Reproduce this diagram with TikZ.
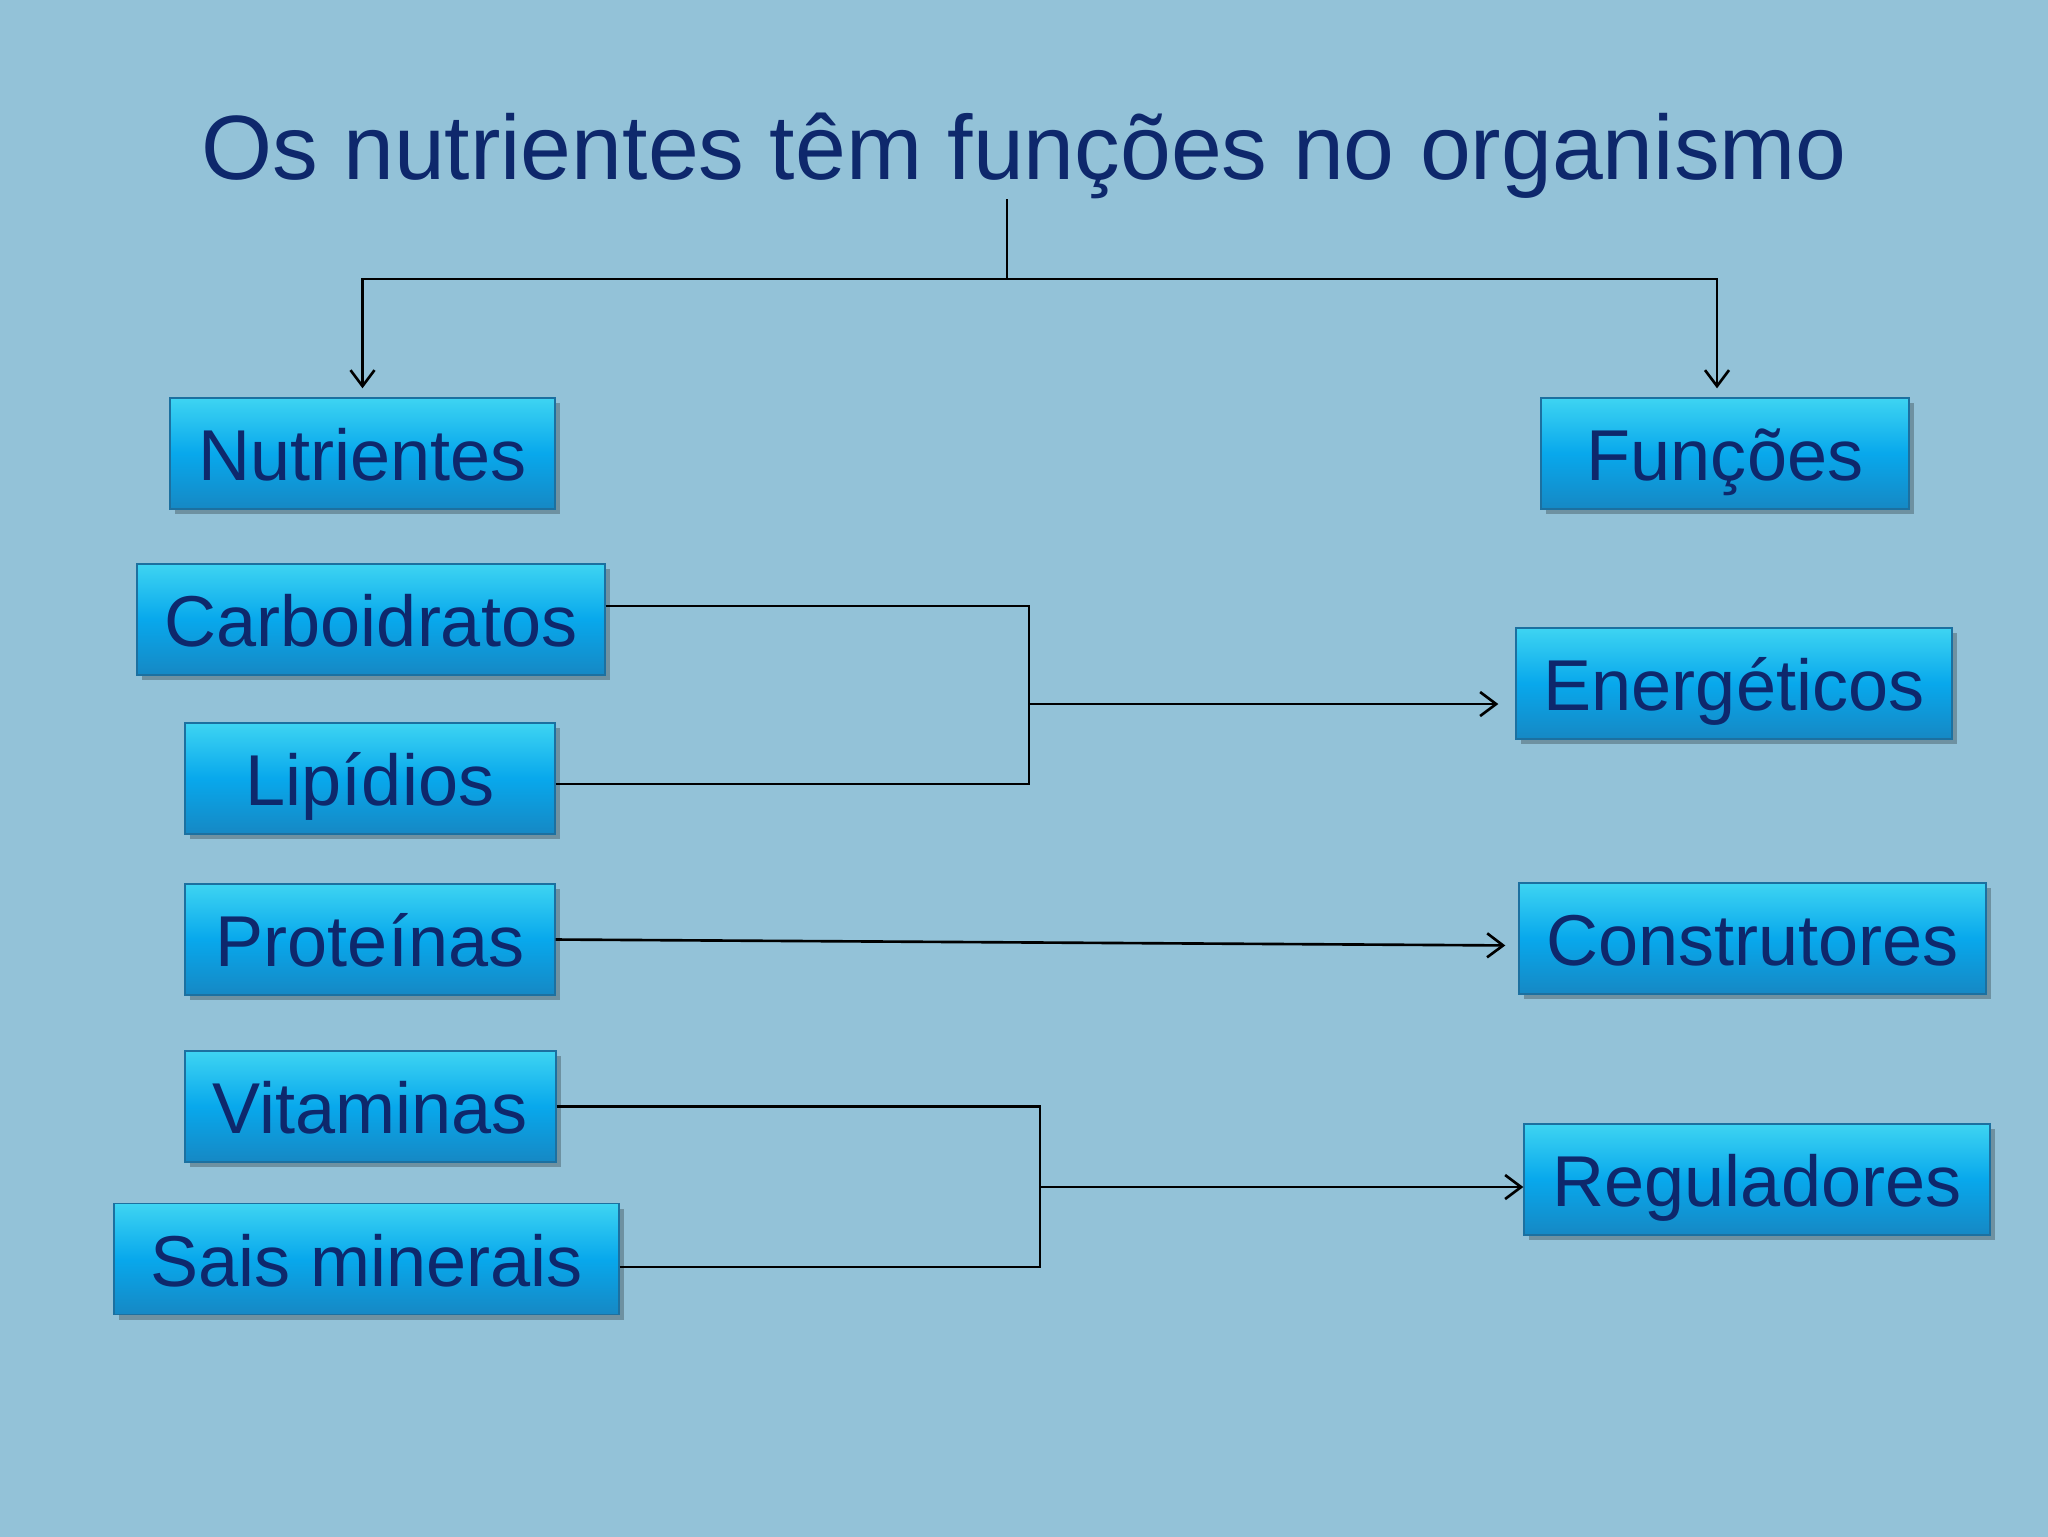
\documentclass[tikz,border=0pt]{standalone}
\usepackage{fontspec}
\setmainfont{Liberation Sans}
\usepackage{xcolor}
\usepackage{tikz}
\usetikzlibrary{arrows.meta,shadows}

\definecolor{fundo}{RGB}{147,194,216}
\definecolor{azultexto}{RGB}{14,40,108}
\definecolor{caixacima}{RGB}{62,212,242}
\definecolor{caixameio}{RGB}{8,168,236}
\definecolor{caixabaixo}{RGB}{22,136,196}
\definecolor{borda}{RGB}{28,112,160}

\tikzset{
	caixa/.style={draw=borda, line width=0.4pt, top color=caixacima, bottom color=caixabaixo, middle color=caixameio,
		minimum height=11.1mm, inner sep=0pt, text height=6.9mm, text depth=1.5mm,
		text=azultexto, font=\fontsize{20.5}{24}\selectfont,
		general shadow={fill=black, opacity=0.25, shadow xshift=0.5mm, shadow yshift=-0.5mm}},
	liga/.style={line width=0.75pt, >={Straight Barb[length=1.6mm,width=2.4mm]}}
}

\begin{document}
\begin{tikzpicture}[x=0.1mm, y=-0.1mm]
		\useasboundingbox (0,0) rectangle (2048,1536);
		\fill[fundo] (-20,-20) rectangle (2068,1556);
		\node[anchor=base, inner sep=0pt, text=azultexto, font=\fontsize{26}{30}\selectfont] (titulo) at (1024,179) {Os nutrientes têm funções no organismo};

		\node[caixa, minimum width=38.5mm] (nut) at (362.5,453.5) {Nutrientes};
		\node[caixa, minimum width=36.8mm] (fun) at (1725,453.5) {Funções};
		\node[caixa, minimum width=46.8mm] (carb) at (371,619.5) {Carboidratos};
		\node[caixa, minimum width=37mm] (lip) at (370,778.5) {Lipídios};
		\node[caixa, minimum width=37mm] (prot) at (370,939.5) {Proteínas};
		\node[caixa, minimum width=37.1mm] (vit) at (370.5,1106.5) {Vitaminas};
		\node[caixa, minimum width=50.5mm] (sais) at (366.5,1259) {Sais minerais};
		\node[caixa, minimum width=43.6mm] (ener) at (1734,683.5) {Energéticos};
		\node[caixa, minimum width=46.7mm] (cons) at (1752.5,938.5) {Construtores};
		\node[caixa, minimum width=46.6mm] (reg) at (1757,1179.5) {Reguladores};

		\coordinate (divide) at (1007,279);
		\coordinate (juntaA) at (1029,704);
		\coordinate (juntaB) at (1040,1187);

		\draw[liga] (divide |- titulo.south) -- (divide);
		\draw[liga,->,shorten >=0.9mm] (divide) -| (nut.north);
		\draw[liga,->,shorten >=0.9mm] (divide) -| ([xshift=-0.8mm]fun.north);

		\draw[liga] ([yshift=1.35mm]carb.east) -| (juntaA);
		\draw[liga] ([yshift=-0.55mm]lip.east) -| (juntaA);
		\draw[liga,->,shorten >=1.7mm] (juntaA) -- (juntaA -| ener.west);

		\draw[liga,->,shorten >=1.3mm] (prot.east) -- ([yshift=-0.7mm]cons.west);

		\draw[liga] (vit.east) -| (juntaB);
		\draw[liga] ([yshift=-0.8mm]sais.east) -| (juntaB);
		\draw[liga,->] (juntaB) -- (juntaB -| reg.west);
	\end{tikzpicture}
\end{document}
